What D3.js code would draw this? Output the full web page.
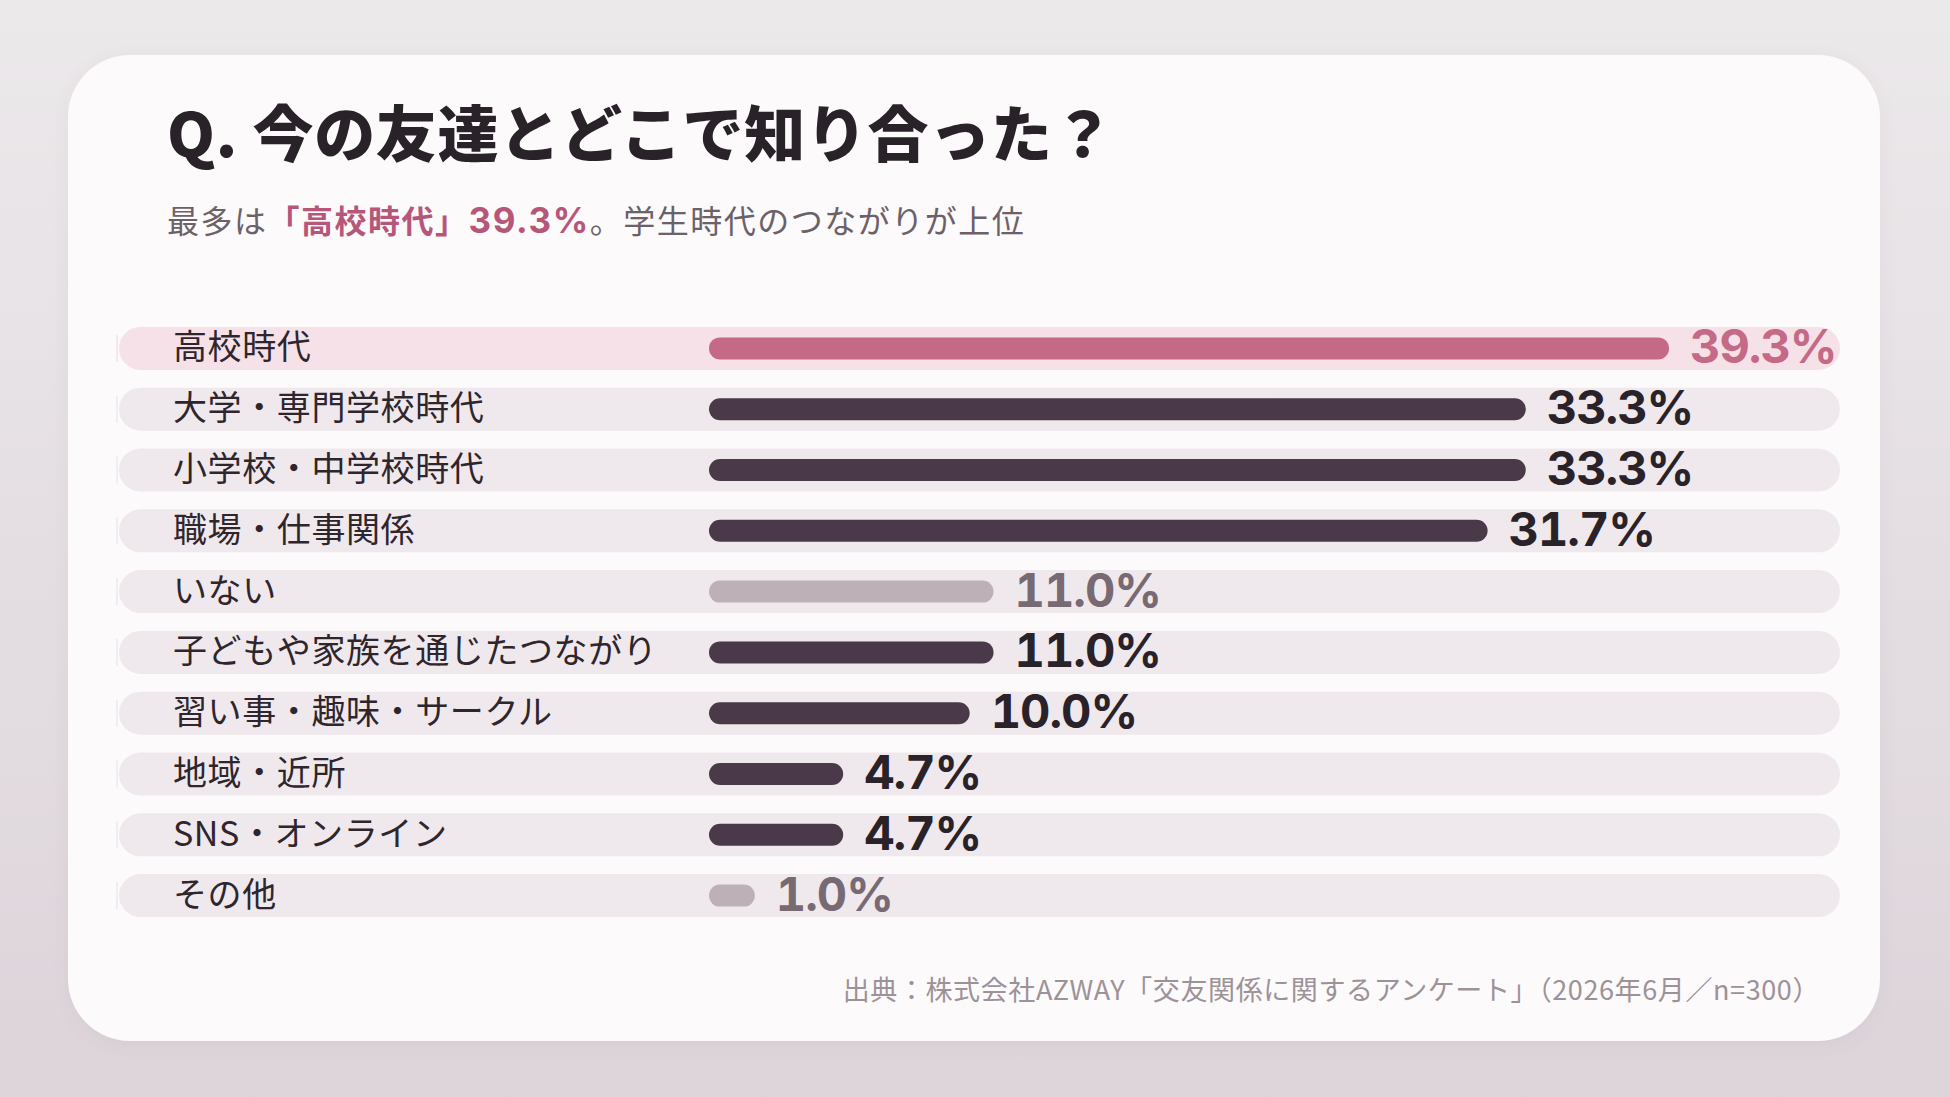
<!DOCTYPE html>
<html lang="ja">
<head>
<meta charset="utf-8">
<script src="https://cdn.jsdelivr.net/npm/d3@7"></script>
<style>
  html, body { margin: 0; padding: 0; overflow: hidden; }
  body { width: 1950px; height: 1097px; }
  svg { display: block; }
</style>
</head>
<body>
<div id="wrapper"></div>
<script>
// 回答データ
const categories = [
    "高校時代",
    "大学・専門学校時代",
    "小学校・中学校時代",
    "職場・仕事関係",
    "いない",
    "子どもや家族を通じたつながり",
    "習い事・趣味・サークル",
    "地域・近所",
    "SNS・オンライン",
    "その他"
];
const values = [39.3, 33.3, 33.3, 31.7, 11.0, 11.0, 10.0, 4.7, 4.7, 1.0];
const mutedCategories = ["いない", "その他"];

const titleText = "Q. 今の友達とどこで知り合った？";
const subtitleParts = [
    { text: "最多は", kind: "plain" },
    { text: "「高校時代」", kind: "strong" },
    { text: "39.3%", kind: "number" },
    { text: "。学生時代のつながりが上位", kind: "plain" }
];
const sourceText = "出典：株式会社AZWAY「交友関係に関するアンケート」（2026年6月／n=300）";

function buildChart() {
    const dimension = {
        width: 1950,
        height: 1097,
        card: { left: 68, top: 55, right: 1880, bottom: 1041, radius: 62 },
        rows: { top: 318, step: 60.8, pillLeft: 119, pillRight: 1840, pillHeight: 43 },
        bar: { left: 709, thickness: 22, maxLength: 938 }
    };

    const colors = {
        bgTop: "#ece9eb",
        bgBottom: "#ddd4da",
        card: "#fcfafb",
        title: "#2a2229",
        sub: "#6c6168",
        accent: "#c46a86",
        accentText: "#b6577a",
        pill: "#efe9ed",
        pillAccent: "#f6e1e8",
        label: "#2e262c",
        bar: "#4a3a49",
        barMuted: "#bdb0b6",
        value: "#2a2229",
        valueMuted: "#776a72",
        source: "#9c9298"
    };

    const jp = "'Noto Sans CJK JP', sans-serif";
    const num = "Inter, 'Noto Sans', sans-serif";

    const data = categories.map((c, i) => ({ category: c, value: values[i] }));
    const maxValue = d3.max(values);

    const svg = d3.select("#wrapper").append("svg")
        .attr("width", dimension.width)
        .attr("height", dimension.height);

    const defs = svg.append("defs");
    const grad = defs.append("linearGradient")
        .attr("id", "bg")
        .attr("x1", 0).attr("y1", 0).attr("x2", 0).attr("y2", 1);
    grad.append("stop").attr("offset", "0%").attr("stop-color", colors.bgTop);
    grad.append("stop").attr("offset", "100%").attr("stop-color", colors.bgBottom);

    const shadow = defs.append("filter").attr("id", "shadow")
        .attr("x", "-5%").attr("y", "-5%").attr("width", "110%").attr("height", "115%");
    shadow.append("feDropShadow")
        .attr("dx", 0).attr("dy", 4).attr("stdDeviation", 8)
        .attr("flood-color", "#7a5f70").attr("flood-opacity", 0.08);

    svg.append("rect")
        .attr("width", dimension.width)
        .attr("height", dimension.height)
        .attr("fill", "url(#bg)");

    const card = dimension.card;
    svg.append("rect")
        .attr("x", card.left)
        .attr("y", card.top)
        .attr("width", card.right - card.left)
        .attr("height", card.bottom - card.top)
        .attr("rx", card.radius)
        .attr("fill", colors.card)
        .attr("filter", "url(#shadow)");

    // タイトル
    svg.append("text")
        .attr("x", 167)
        .attr("y", 157)
        .attr("font-family", jp)
        .attr("font-weight", 900)
        .attr("font-size", 61)
        .attr("letter-spacing", 0.7)
        .attr("fill", colors.title)
        .text(titleText);

    const sub = svg.append("text")
        .attr("x", 167)
        .attr("y", 233)
        .attr("font-family", jp)
        .attr("font-size", 32)
        .attr("fill", colors.sub);
    sub.selectAll("tspan")
        .data(subtitleParts)
        .join("tspan")
        .attr("font-family", d => d.kind === "number" ? num : jp)
        .attr("font-size", d => d.kind === "number" ? 35 : 32)
        .attr("font-weight", d => d.kind === "plain" ? 400 : 700)
        .attr("letter-spacing", d => d.kind === "number" ? 1.6 : 1.5)
        .attr("fill", d => d.kind === "plain" ? colors.sub : colors.accentText)
        .text(d => d.text);

    // スケール
    const rows = dimension.rows;
    const yScale = d3.scaleBand()
        .domain(categories)
        .range([rows.top, rows.top + rows.step * categories.length])
        .padding(0);

    const xScale = d3.scaleLinear()
        .domain([0, maxValue])
        .range([0, dimension.bar.maxLength]);

    const toneOf = d => d.value === maxValue ? "accent"
        : (mutedCategories.includes(d.category) ? "muted" : "normal");

    const row = svg.append("g")
        .selectAll("g")
        .data(data)
        .join("g")
        .attr("transform", d => `translate(0,${yScale(d.category) + yScale.bandwidth() / 2})`);

    row.append("rect")
        .attr("x", rows.pillLeft)
        .attr("y", -rows.pillHeight / 2)
        .attr("width", rows.pillRight - rows.pillLeft)
        .attr("height", rows.pillHeight)
        .attr("rx", rows.pillHeight / 2)
        .attr("fill", d => toneOf(d) === "accent" ? colors.pillAccent : colors.pill);

    // 左端のうっすらした縦線
    row.append("line")
        .attr("x1", rows.pillLeft - 2)
        .attr("x2", rows.pillLeft - 2)
        .attr("y1", -rows.pillHeight / 2 + 8)
        .attr("y2", rows.pillHeight / 2 - 8)
        .attr("stroke", d => toneOf(d) === "accent" ? colors.pillAccent : colors.pill)
        .attr("stroke-width", 1.5);

    row.append("text")
        .attr("x", 173)
        .attr("y", 11)
        .attr("font-family", jp)
        .attr("font-size", 34)
        .attr("letter-spacing", 0.6)
        .attr("fill", colors.label)
        .text(d => d.category);

    const half = dimension.bar.thickness / 2;
    const barStart = dimension.bar.left + half;

    row.append("line")
        .attr("x1", barStart)
        .attr("x2", d => barStart + xScale(d.value))
        .attr("y1", 0)
        .attr("y2", 0)
        .attr("stroke-width", dimension.bar.thickness)
        .attr("stroke-linecap", "round")
        .attr("stroke", d => {
            const t = toneOf(d);
            return t === "accent" ? colors.accent : t === "muted" ? colors.barMuted : colors.bar;
        });

    row.append("text")
        .attr("x", d => barStart + xScale(d.value) + half + 21)
        .attr("y", 15)
        .attr("font-family", num)
        .attr("font-weight", 700)
        .attr("font-size", 47)
        .attr("letter-spacing", -1)
        .style("font-variant-numeric", "tabular-nums")
        .attr("fill", d => {
            const t = toneOf(d);
            return t === "accent" ? colors.accent : t === "muted" ? colors.valueMuted : colors.value;
        })
        .text(d => d3.format(".1f")(d.value) + "%");

    // 出典
    svg.append("text")
        .attr("x", 1820)
        .attr("y", 1000)
        .attr("text-anchor", "end")
        .attr("font-family", jp)
        .attr("font-size", 27)
        .attr("letter-spacing", 0.6)
        .attr("fill", colors.source)
        .text(sourceText);
}

buildChart();
</script>
</body>
</html>
